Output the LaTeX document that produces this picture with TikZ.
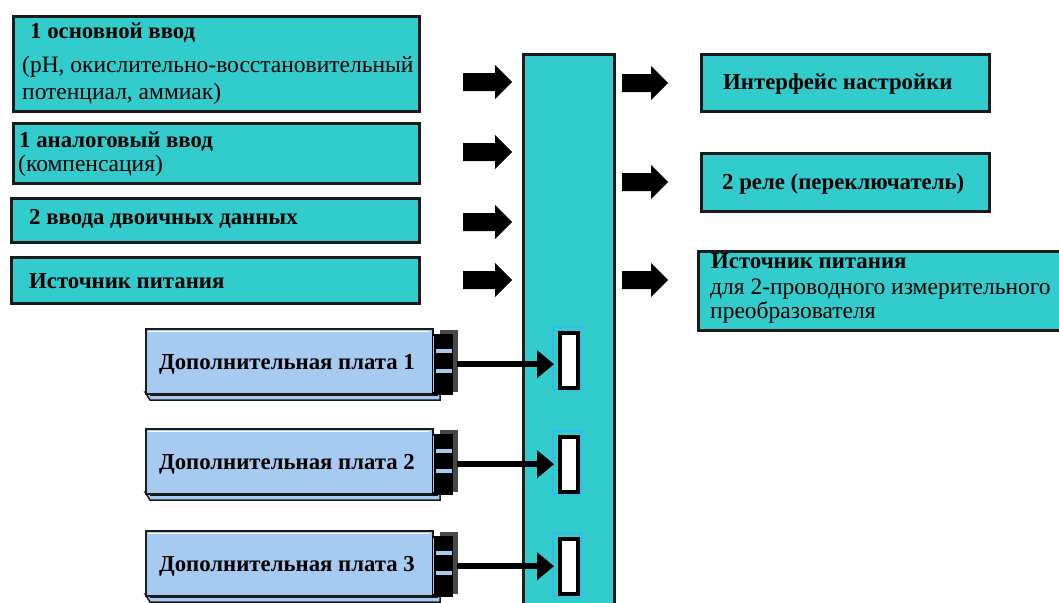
\documentclass[tikz,border=0pt]{standalone}
\usepackage{fontspec}
\setmainfont{Liberation Serif}
\usetikzlibrary{arrows.meta}
\definecolor{cyanf}{HTML}{33CCCC}
\definecolor{plateblue}{HTML}{A6CAF0}
\definecolor{edgec}{HTML}{1A1A1A}
\definecolor{glow}{HTML}{33BBEE}
\newcommand\myBlockArrow[3]{% x, y (centre), length
  \fill[black] (#1,#2-9) -- (#1+#3-17,#2-9) -- (#1+#3-17,#2-17) -- (#1+#3,#2)
    -- (#1+#3-17,#2+17) -- (#1+#3-17,#2+9) -- (#1,#2+9) -- cycle;}
\begin{document}
\begin{tikzpicture}[x=1pt,y=-1pt,
  box/.style={draw=edgec, line width=3pt, fill=cyanf, inner sep=0pt, anchor=north west},
  bt/.style={font=\fontsize{22.8}{26}\selectfont\bfseries, anchor=base west, inner sep=0pt},
  rt/.style={font=\fontsize{23.5}{28}\selectfont, anchor=base west, inner sep=0pt},
  plate/.style={draw=edgec, line width=2pt, fill=plateblue, inner sep=0pt, anchor=north west,
    minimum width=287pt, minimum height=65pt},
  conn/.style={draw=black, fill=black, inner sep=0pt, anchor=north west, minimum width=20pt, minimum height=60pt},
  slotbox/.style={draw=black, line width=4pt, fill=white, inner sep=0pt, anchor=north west,
    minimum width=18pt, minimum height=55pt},
  link/.style={line width=6pt, -{Triangle[length=17pt,width=27pt]}, shorten <=5pt, shorten >=4pt}
]
\useasboundingbox (0,0) rectangle (1059,602);

% input boxes
\node[box, minimum width=406pt, minimum height=95pt] (in1) at (12,15) {};
\node[bt] (in1a) at (30,39) {1 основной ввод};
\node[rt] (in1b) at (22,73) {(pH, окислительно-восстановительный};
\node[rt] (in1c) at (22,99) {потенциал, аммиак)};

\node[box, minimum width=406pt, minimum height=60pt] (in2) at (12,122) {};
\node[bt] (in2a) at (19,147) {1 аналоговый ввод};
\node[rt] (in2b) at (18,171) {(компенсация)};

\node[box, minimum width=408pt, minimum height=44pt] (in3) at (10,197) {};
\node[bt] (in3a) at (29,224) {2 ввода двоичных данных};

\node[box, minimum width=408pt, minimum height=46pt] (in4) at (10,256) {};
\node[bt] (in4a) at (29,288) {Источник питания};

% central bus
\node[box, minimum width=91pt, minimum height=570pt] (bus) at (522,53) {};

% block arrows left
\myBlockArrow{463}{82}{49}
\myBlockArrow{463}{152}{49}
\myBlockArrow{463}{222}{49}
\myBlockArrow{463}{280}{49}

% block arrows right
\myBlockArrow{622}{83}{46}
\myBlockArrow{622}{182}{46}
\myBlockArrow{622}{280}{46}

% output boxes
\node[box, minimum width=288pt, minimum height=57pt] (out1) at (700,53) {};
\node[bt] (out1a) at (723,89) {Интерфейс настройки};
\node[box, minimum width=288pt, minimum height=58pt] (out2) at (700,152) {};
\node[bt] (out2a) at (722,189) {2 реле (переключатель)};
\node[box, minimum width=385pt, minimum height=79pt] (out3) at (697,250) {};
\node[bt] (out3a) at (711,268) {Источник питания};
\node[rt] (out3b) at (710,294) {для 2-проводного измерительного};
\node[rt] (out3c) at (710,318) {преобразователя};

% plates
\foreach \i/\y in {1/328,2/428,3/530}{
  \fill[plateblue, draw=edgec, line width=1.5pt] (145,\y+64) -- (150,\y+72) -- (440,\y+72) -- (440,\y+64) -- cycle;
  \draw[edgec, line width=1pt] (150,\y+67) -- (438,\y+67);
  \node[plate] (p\i) at (145,\y) {};
  \draw[white, line width=1pt] (148,\y+3) -- (429,\y+3);
  \node[font=\fontsize{22.8}{26}\selectfont\bfseries, anchor=base, inner sep=0pt] (p\i t) at (287,\y+41) {Дополнительная плата \i};
  % connector
  \fill[edgec!80] (440,\y+2) rectangle (458,\y+64);
  \node[conn] (c\i) at (432,\y+6) {};
  \fill[plateblue] (436,\y+21) rectangle (452,\y+25);
  \fill[plateblue] (436,\y+41) rectangle (452,\y+45);
  \draw[plateblue, line width=1pt] (433,\y+8) -- (433,\y+64);
}

% slots
\foreach \i/\y in {1/331,2/435,3/537}{
  \draw[glow, line width=1.2pt] (553,\y-4) rectangle (581,\y+59);
  \node[slotbox] (s\i) at (558,\y) {};
  \foreach \f in {-12,0,12}{
    \draw[black, line width=1.5pt] ([yshift=\f pt]s\i.west) -- ++(4,0);
    \draw[black, line width=1.5pt] ([yshift=\f pt]s\i.east) -- ++(-4,0);
  }
}

% plate-to-slot arrows
\draw[link] (c1.east) -- (c1.east -| s1.west);
\draw[link] (c2.east) -- (c2.east -| s2.west);
\draw[link] (c3.east) -- (c3.east -| s3.west);
\end{tikzpicture}
\end{document}
